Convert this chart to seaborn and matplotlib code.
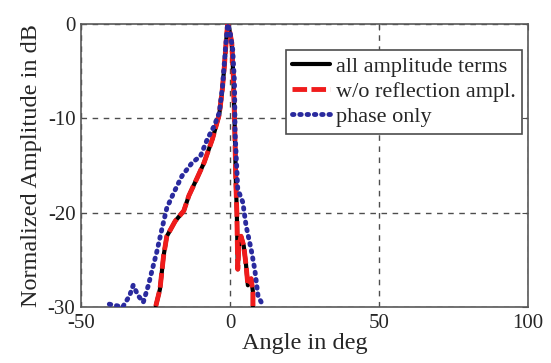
import matplotlib
matplotlib.use('Agg')
import matplotlib.pyplot as plt
import seaborn as sns
import pandas as pd

# --- data ---
all_x = [-24.9, -23.5, -22.3, -21.2, -18.4, -15.5, -13.8, -11.0, -8.7, -5.9, -3.6, -2.6, -1.9, -1.2, -0.8,
         -0.2, 0.6, 1.1, 1.5, 2.0, 2.3, 2.6, 3.0, 3.7, 4.6, 5.4, 6.0, 7.1, 7.7, 7.7]
all_y = [-29.9, -28.1, -24.6, -22.5, -20.9, -19.8, -18.2, -16.3, -14.7, -12.2, -9.6, -7.0, -4.5, -1.5, 0.0,
         -0.6, -2.0, -5.5, -9.8, -17.2, -20.0, -26.0, -23.5, -22.5, -23.5, -25.6, -27.7, -27.0, -28.4, -29.9]
refl_x = list(all_x)
refl_y = list(all_y)
phase_x = [-40.5, -36.0, -33.7, -32.5, -30.8, -29.1, -27.4, -26.3, -24.6, -22.9, -21.2, -18.9, -16.1,
           -12.7, -9.9, -7.6, -5.3, -3.6, -2.5, -1.5, -0.8, 0.0, 0.9, 1.5, 1.7, 2.6, 4.3, 5.4, 7.1, 8.3, 9.4, 10.5]
phase_y = [-29.7, -30.0, -28.8, -27.7, -28.8, -29.5, -27.7, -26.3, -24.2, -21.8, -19.5, -17.9, -16.1,
           -14.7, -14.0, -12.2, -10.8, -9.4, -6.6, -2.5, 0.0, -0.8, -2.7, -6.2, -11.5, -17.5, -18.9, -21.4, -23.9, -26.0, -28.8, -29.5]
x_ticks = [-50, 0, 50, 100]
y_ticks = [-30, -20, -10, 0]
labels = ["all amplitude terms", "w/o reflection ampl.", "phase only"]

sns.set_style('white')
plt.rcParams['font.family'] = ['Liberation Serif', 'DejaVu Serif']
plt.rcParams['axes.unicode_minus'] = False
plt.rcParams['xtick.direction'] = 'in'
plt.rcParams['ytick.direction'] = 'in'

fig = plt.figure(figsize=(5.51, 3.63), dpi=100)
ax = fig.add_axes([81/551, 1-307/363, (528-81)/551, (307-24)/363])

df_all = pd.DataFrame({'x': all_x, 'y': all_y})
df_refl = pd.DataFrame({'x': refl_x, 'y': refl_y})
df_phase = pd.DataFrame({'x': phase_x, 'y': phase_y})

sns.lineplot(data=df_all, x='x', y='y', ax=ax, sort=False, estimator=None,
             color='black', lw=3.0, label=labels[0], zorder=3)
sns.lineplot(data=df_refl, x='x', y='y', ax=ax, sort=False, estimator=None,
             color='#f01c1c', lw=3.5, label=labels[1], zorder=4)
sns.lineplot(data=df_phase, x='x', y='y', ax=ax, sort=False, estimator=None,
             color='#2a2a9e', lw=3.5, label=labels[2], zorder=5)
lines = ax.get_lines()
lines[1].set_dashes((3, 0.9))
lines[2].set_dashes((0.3, 1.2))
lines[2].set_dash_capstyle('round')

ax.set_xlim(-50, 100)
ax.set_ylim(-30, 0)
ax.set_xticks(x_ticks)
ax.set_yticks(y_ticks)
ax.tick_params(axis='both', labelsize=15, length=4, width=0.8, color='0.3',
               top=True, right=True)
ax.tick_params(axis='x', pad=5)
ax.tick_params(axis='y', pad=4)
ax.grid(True, linestyle=(0, (4, 4)), color='0.3', lw=1)
for s in ax.spines.values():
    s.set_color('0.35')
    s.set_linewidth(1.2)
ax.set_xlabel('Angle in deg', fontsize=17.5, labelpad=0)
ax.set_ylabel('Normalized Amplitude in dB', fontsize=17.5, labelpad=4)

leg = ax.legend(loc='upper right', bbox_to_anchor=(0.987, 0.908), borderaxespad=0,
                fontsize=16, frameon=True, fancybox=False, edgecolor='0.3',
                framealpha=1, handlelength=1.7, handletextpad=0.25,
                labelspacing=0.2, borderpad=0.3)
leg.get_frame().set_linewidth(1.2)
leg_lines = leg.get_lines()
leg_lines[1].set_dashes((3, 0.9))
leg_lines[2].set_dashes((0.3, 1.2))
leg_lines[2].set_dash_capstyle('round')

fig.savefig('out.png', dpi=100)
